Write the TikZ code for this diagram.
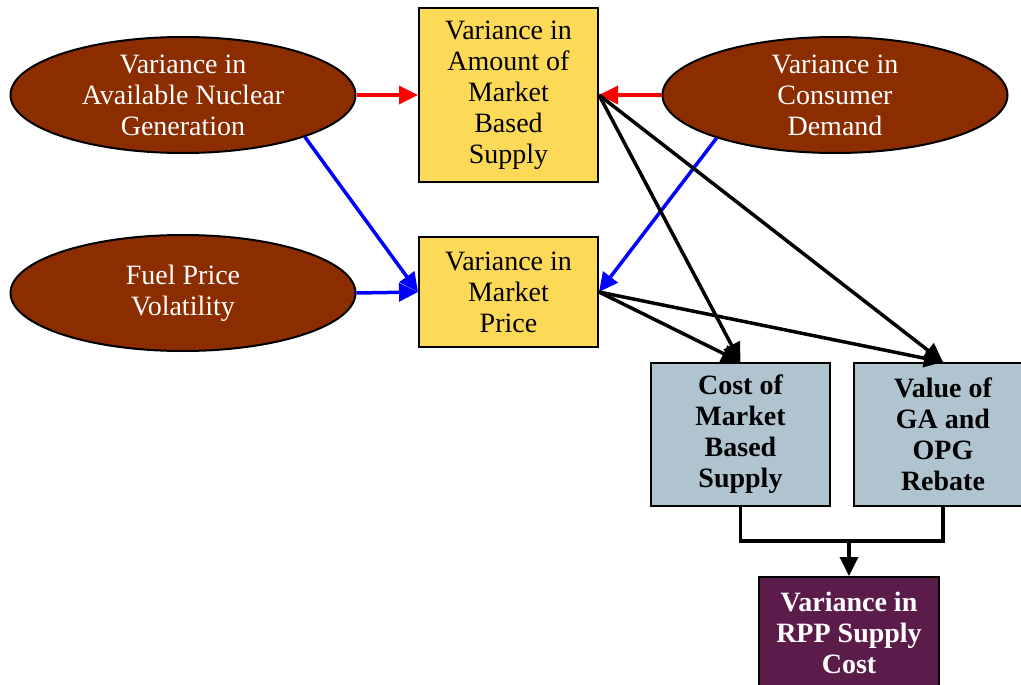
\documentclass[tikz,border=0pt]{standalone}
\usepackage{fontspec}
\setmainfont{Liberation Serif}
\usetikzlibrary{shapes.geometric,arrows.meta}
\definecolor{brownfill}{RGB}{140,45,0}
\definecolor{yellowfill}{RGB}{253,217,88}
\definecolor{grayfill}{RGB}{176,196,208}
\definecolor{purplefill}{RGB}{92,28,74}
\begin{document}
\begin{tikzpicture}[x=1pt,y=-1pt,
  every node/.style={font=\fontsize{28}{31}\selectfont, align=center, inner sep=0pt},
  oval/.style={ellipse, draw=black, line width=2pt, fill=brownfill, text=white, minimum width=345pt, minimum height=116pt},
  ybox/.style={rectangle, draw=black, line width=2pt, fill=yellowfill, minimum width=179pt},
  gbox/.style={rectangle, draw=black, line width=2pt, fill=grayfill, minimum width=179pt, minimum height=143pt, font=\fontsize{28}{31}\selectfont\bfseries},
  pbox/.style={rectangle, draw=black, line width=2pt, fill=purplefill, text=white, minimum width=180pt, minimum height=111pt, font=\fontsize{28}{31}\selectfont\bfseries},
  arr/.style={line width=3.5pt, -{Triangle[length=19pt,width=18pt]}},
  link/.style={line width=3.5pt},
]
\useasboundingbox (0,0) rectangle (1021,685);
\fill[white] (0,0) rectangle (1021,685);

\node[oval] (e1) at (183,95) {Variance in\\Available Nuclear\\Generation};
\node[oval] (e2) at (183,293) {Fuel Price\\Volatility};
\node[oval] (e3) at (835,95) {Variance in\\Consumer\\Demand};

\node[ybox, minimum height=174pt] (A) at (508.5,95) {Variance in\\Amount of\\Market\\Based\\Supply};
\node[ybox, minimum height=110pt] (B) at (508.5,292) {Variance in\\Market\\Price};

\node[gbox] (C) at (740.5,434.5) {Cost of\\Market\\Based\\Supply};
\node[gbox] (D) at (943,434.5) {Value of\\GA and\\OPG\\Rebate};
\node[pbox] (E) at (849,632.5) {Variance in\\RPP Supply\\Cost};

\draw[arr, red] (e1.east) -- (A.west);
\draw[arr, red] (e3.west) -- (A.east);
\draw[arr, blue] (e1.-19.3) -- (B.west);
\draw[arr, blue] (e2.east) -- (B.west);
\draw[arr, blue] (e3.-160.7) -- (B.east);

\draw[arr] (A.east) -- (C.north);
\draw[arr] (A.east) -- (D.north);
\draw[arr] (B.east) -- (C.north);
\draw[arr] (B.east) -- (D.north);

\coordinate (j) at (849,541);
\draw[link] (C.south) -- (C.south |- j) -- (D.south |- j) -- (D.south);
\draw[arr] (j) -- (E.north);
\end{tikzpicture}
\end{document}
